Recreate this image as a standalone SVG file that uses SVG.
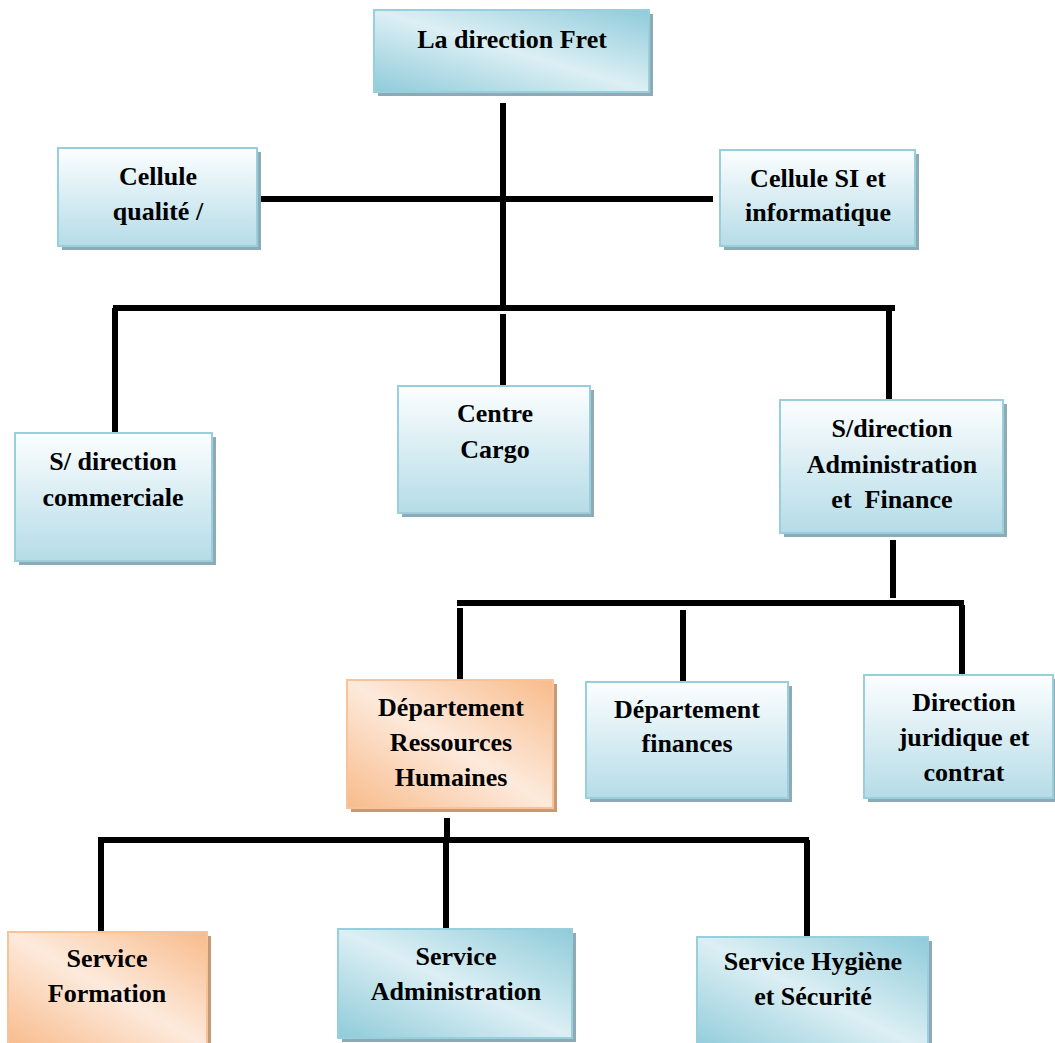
<svg xmlns="http://www.w3.org/2000/svg" width="1055" height="1043" viewBox="0 0 1055 1043">
  <defs>
    <!-- vertical white-to-blue fill -->
    <linearGradient id="gBlueV" x1="0" y1="0" x2="0" y2="1">
      <stop offset="0" stop-color="#fcfeff"/>
      <stop offset="1" stop-color="#b5dce7"/>
    </linearGradient>
    <!-- diagonal blue fill, dark corners, light middle band -->
    <linearGradient id="gBlueD" x1="1" y1="0" x2="0" y2="1">
      <stop offset="0" stop-color="#8fcbda"/>
      <stop offset="0.5" stop-color="#dcEff4"/>
      <stop offset="1" stop-color="#8fcbda"/>
    </linearGradient>
    <!-- diagonal orange fill -->
    <linearGradient id="gOrange" x1="1" y1="0" x2="0" y2="1">
      <stop offset="0" stop-color="#f8bb8b"/>
      <stop offset="0.5" stop-color="#fdeadc"/>
      <stop offset="1" stop-color="#f8bb8b"/>
    </linearGradient>
  </defs>
  <style>
    .shadow { fill: #8eaab5; }
    .shadowO { fill: #c49a78; }
    .boxV { fill: url(#gBlueV); stroke: #98cfdd; stroke-width: 2; }
    .boxD { fill: url(#gBlueD); stroke: #98cfdd; stroke-width: 2; }
    .boxO { fill: url(#gOrange); stroke: #f9c398; stroke-width: 2; }
    text { font-family: "Liberation Serif", "Times New Roman", serif; font-weight: bold; font-size: 26px; fill: #000; text-anchor: middle; }
    .link { stroke: #000; stroke-width: 6; fill: none; }
  </style>
  <rect width="1055" height="1043" fill="#ffffff"/>

  <g id="connectors">
    <line class="link" x1="503" y1="103" x2="503" y2="305"/>
    <line class="link" x1="258" y1="199" x2="713" y2="199"/>
    <line class="link" x1="113" y1="308" x2="895" y2="308"/>
    <line class="link" x1="115" y1="308" x2="115" y2="432"/>
    <line class="link" x1="503" y1="314" x2="503" y2="386"/>
    <line class="link" x1="889" y1="308" x2="889" y2="400"/>
    <line class="link" x1="893" y1="540" x2="893" y2="598"/>
    <line class="link" x1="457" y1="603" x2="964" y2="603"/>
    <line class="link" x1="460" y1="608" x2="460" y2="679"/>
    <line class="link" x1="683" y1="610" x2="683" y2="681"/>
    <line class="link" x1="962" y1="605" x2="962" y2="674"/>
    <line class="link" x1="447" y1="818" x2="447" y2="838"/>
    <line class="link" x1="98" y1="840" x2="809" y2="840"/>
    <line class="link" x1="101" y1="840" x2="101" y2="931"/>
    <line class="link" x1="446" y1="840" x2="446" y2="929"/>
    <line class="link" x1="807" y1="840" x2="807" y2="936"/>
  </g>

  <g id="direction-fret">
    <rect class="shadow" x="378" y="14" width="275" height="82"/>
    <rect class="boxD" x="374" y="10" width="275" height="82"/>
    <text x="512" y="48">La direction Fret</text>
  </g>

  <g id="cellule-qualite">
    <rect class="shadow" x="62" y="152" width="199" height="98"/>
    <rect class="boxV" x="58" y="148" width="199" height="98"/>
    <text x="158" y="185">Cellule</text>
    <text x="158" y="220">qualité /</text>
  </g>

  <g id="cellule-si">
    <rect class="shadow" x="724" y="154" width="195" height="96"/>
    <rect class="boxV" x="720" y="150" width="195" height="96"/>
    <text x="818" y="187">Cellule SI et</text>
    <text x="818" y="221">informatique</text>
  </g>

  <g id="s-direction-commerciale">
    <rect class="shadow" x="19" y="437" width="197" height="128"/>
    <rect class="boxV" x="15" y="433" width="197" height="128"/>
    <text x="113" y="470">S/ direction</text>
    <text x="113" y="506">commerciale</text>
  </g>

  <g id="centre-cargo">
    <rect class="shadow" x="402" y="390" width="192" height="127"/>
    <rect class="boxV" x="398" y="386" width="192" height="127"/>
    <text x="495" y="422">Centre</text>
    <text x="495" y="458">Cargo</text>
  </g>

  <g id="s-direction-admin">
    <rect class="shadow" x="784" y="404" width="223" height="133"/>
    <rect class="boxV" x="780" y="400" width="223" height="133"/>
    <text x="892" y="437">S/direction</text>
    <text x="892" y="473">Administration</text>
    <text x="892" y="508" xml:space="preserve">et  Finance</text>
  </g>

  <g id="departement-rh">
    <rect class="shadowO" x="351" y="684" width="206" height="128"/>
    <rect class="boxO" x="347" y="680" width="206" height="128"/>
    <text x="451" y="716">Département</text>
    <text x="451" y="751">Ressources</text>
    <text x="451" y="786">Humaines</text>
  </g>

  <g id="departement-finances">
    <rect class="shadow" x="590" y="686" width="202" height="116"/>
    <rect class="boxV" x="586" y="682" width="202" height="116"/>
    <text x="687" y="718">Département</text>
    <text x="687" y="752">finances</text>
  </g>

  <g id="direction-juridique">
    <rect class="shadow" x="868" y="679" width="190" height="123"/>
    <rect class="boxV" x="864" y="675" width="189" height="123"/>
    <text x="964" y="711">Direction</text>
    <text x="964" y="746">juridique et</text>
    <text x="964" y="781">contrat</text>
  </g>

  <g id="service-formation">
    <rect class="shadowO" x="12" y="936" width="199" height="115"/>
    <rect class="boxO" x="8" y="932" width="199" height="115"/>
    <text x="107" y="967">Service</text>
    <text x="107" y="1002">Formation</text>
  </g>

  <g id="service-administration">
    <rect class="shadow" x="342" y="933" width="234" height="109"/>
    <rect class="boxD" x="338" y="929" width="234" height="109"/>
    <text x="456" y="965">Service</text>
    <text x="456" y="1000">Administration</text>
  </g>

  <g id="service-hygiene">
    <rect class="shadow" x="701" y="941" width="231" height="115"/>
    <rect class="boxD" x="697" y="937" width="231" height="115"/>
    <text x="813" y="970">Service Hygiène</text>
    <text x="813" y="1005">et Sécurité</text>
  </g>
</svg>
